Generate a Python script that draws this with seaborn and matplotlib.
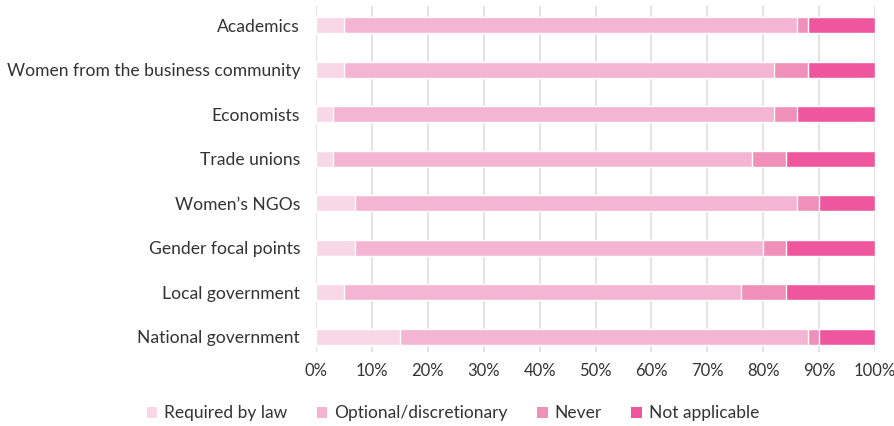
import matplotlib
matplotlib.use("Agg")
import matplotlib.pyplot as plt
import seaborn as sns
import pandas as pd
import numpy as np
from matplotlib.patches import Patch
from matplotlib.ticker import PercentFormatter

categories = ["Academics", "Women from the business community", "Economists",
              "Trade unions", "Women\u2019s NGOs", "Gender focal points",
              "Local government", "National government"]
required = [5, 5, 3, 3, 7, 7, 5, 15]
optional = [81, 77, 79, 75, 79, 73, 71, 73]
never = [2, 6, 4, 6, 4, 4, 8, 2]
not_applicable = [12, 12, 14, 16, 10, 16, 16, 10]

series_names = ["Required by law", "Optional/discretionary", "Never", "Not applicable"]
colors = ["#f7d8e4", "#f4b5d3", "#f090b9", "#ee569d"]

sns.set_theme(style="white")
plt.rcParams['font.family'] = ['Lato', 'DejaVu Sans']

df = pd.DataFrame({"cat": categories, "r": required, "o": optional,
                   "n": never, "na": not_applicable})
df["c1"] = df["r"]
df["c2"] = df["c1"] + df["o"]
df["c3"] = df["c2"] + df["n"]
df["c4"] = df["c3"] + df["na"]

fig, ax = plt.subplots(figsize=(8.95, 4.26), dpi=100)
fig.subplots_adjust(left=316/895, right=875/895, top=0.986, bottom=0.174)

for col, color in zip(["c4", "c3", "c2", "c1"], colors[::-1]):
    sns.barplot(data=df, x=col, y="cat", color=color, orient="h",
                width=0.36, ax=ax, saturation=1, zorder=3)

ax.set_xlim(0, 100)
ax.set_ylim(7.34, -0.43)
ax.set_xticks(np.arange(0, 101, 10))
ax.xaxis.set_major_formatter(PercentFormatter(decimals=0))
ax.set_xlabel("")
ax.set_ylabel("")
ax.grid(axis="x", color="#e4e4e4", linewidth=1.6, zorder=0)
ax.set_axisbelow(True)
for s in ax.spines.values():
    s.set_visible(False)
ax.tick_params(axis="both", length=0, colors="#333333")
ax.tick_params(axis="y", labelsize=12.6, pad=11.5)
ax.tick_params(axis="x", labelsize=12, pad=8)

handles = [Patch(facecolor=c, edgecolor="none") for c in colors]
fig.legend(handles, series_names, loc="center", bbox_to_anchor=(0.506, 0.03),
           ncol=4, frameon=False, fontsize=12.5, handlelength=0.6,
           handleheight=0.6, handletextpad=0.4, columnspacing=1.7,
           labelcolor="#333333")

fig.savefig("out.png", dpi=100)
